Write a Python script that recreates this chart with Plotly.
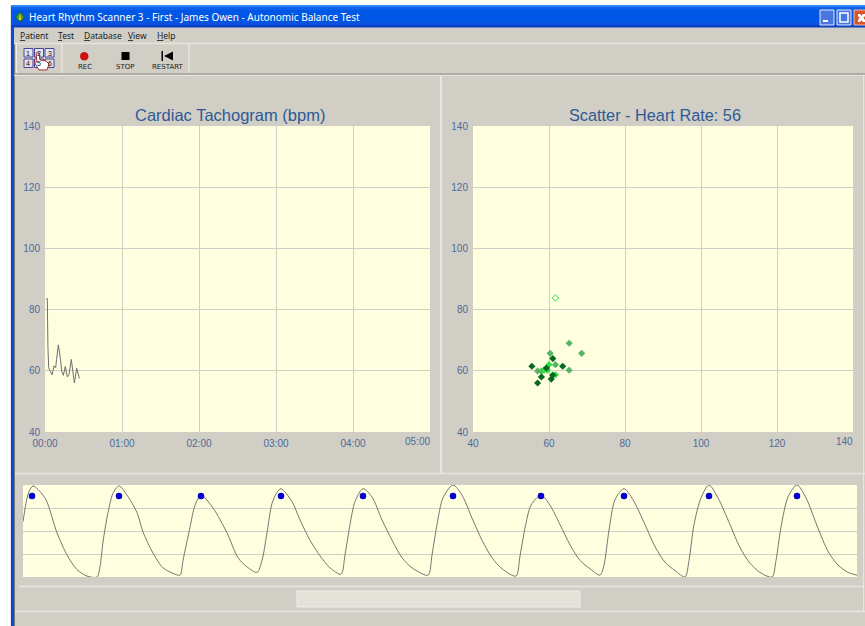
import plotly.graph_objects as go

W, H = 865, 626

# ---------- data ----------
tacho_t = [1.0, 1.8, 2.3, 2.9, 3.9, 5.5, 7.0, 8.3, 9.0, 10.4, 12.0, 13.0, 14.3, 15.8, 17.4, 18.7, 20.5, 22.9, 24.7, 26.8]
tacho_bpm = [83.6, 83.6, 67.4, 61.0, 60.0, 58.7, 61.6, 61.0, 63.7, 68.5, 64.0, 59.8, 58.5, 61.4, 58.0, 58.8, 63.7, 56.0, 60.8, 57.5]
time_ticks = [0, 60, 120, 180, 240, 300]
time_labels = ["00:00", "01:00", "02:00", "03:00", "04:00", "05:00"]
rate_ticks = [40, 60, 80, 100, 120, 140]
rate_labels = ["40", "60", "80", "100", "120", "140"]

latest_x = [61.7]
latest_y = [83.8]
light_x = [58.7, 59.6, 61.7, 60.0]
light_y = [60.2, 60.2, 58.7, 62.0]
mid_x = [65.3, 68.6, 60.3, 65.3, 61.7, 57.0, 58.0]
mid_y = [69.0, 65.7, 65.7, 60.2, 62.0, 59.9, 59.9]
dark_x = [61.0, 63.6, 55.5, 59.3, 58.0, 61.0, 60.6, 57.0]
dark_y = [64.0, 61.5, 61.5, 60.9, 58.0, 58.6, 57.3, 56.0]

wave_x = [23, 26, 29, 33, 38, 46, 57, 67, 77, 87, 97,
          100, 103, 108, 113, 119, 127, 137, 143, 153, 163, 173, 180,
          183, 190, 195, 201, 213, 227, 238, 247, 257,
          262, 267, 272, 277, 281, 292, 300, 310, 320, 330, 341,
          345, 350, 355, 363, 372, 382, 392, 402, 412, 428,
          432, 437, 443, 453, 462, 472, 482, 492, 502, 516,
          520, 525, 531, 541, 550, 560, 570, 580, 590, 600,
          604, 609, 615, 624, 633, 645, 655, 665, 675, 685,
          689, 694, 701, 709, 718, 730, 740, 750, 760, 772,
          776, 781, 788, 797, 806, 818, 828, 838, 848, 857]
wave_y = [60, 80, 93, 99, 95, 84, 48, 24, 8, 1, 0,
          11, 38, 70, 91, 99, 89, 70, 49, 26, 10, 4, 2,
          18, 54, 78, 89, 75, 48, 21, 11, 5,
          18, 48, 80, 92, 96, 82, 62, 40, 23, 10, 3,
          24, 57, 82, 96, 87, 62, 40, 21, 10, 2,
          24, 57, 86, 100, 89, 64, 40, 21, 9, 1,
          23, 53, 78, 89, 78, 57, 35, 18, 9, 2,
          13, 51, 84, 96, 84, 57, 33, 16, 7, 0,
          18, 57, 86, 100, 86, 57, 32, 15, 5, 0,
          18, 54, 87, 100, 86, 53, 28, 13, 5, 2]
beat_x = [32, 119, 201, 281, 363, 453, 541, 624, 709, 797]
beat_y = [88, 88, 88, 88, 88, 88, 88, 88, 88, 88]

window_title = "Heart Rhythm Scanner 3 - First - James Owen - Autonomic Balance Test"
menu_items = ["Patient", "Test", "Database", "View", "Help"]
tool_labels = ["REC", "STOP", "RESTART"]
left_title = "Cardiac Tachogram (bpm)"
right_title = "Scatter - Heart Rate: 56"
view_digits = ["1", "2", "3", "4", "5", "6"]

# ---------- helpers (pixel -> paper) ----------
def px(x): return x / W
def py(y): return 1 - y / H

BG = "#d1cec6"
PLOT_BG = "#ffffe0"
GRID = "#cfcfc8"
TICK = "#4d6c97"
shapes = []
annots = []

def rect(x0, y0, x1, y1, fill, line=None, lw=1):
    shapes.append(dict(type="rect", xref="paper", yref="paper", layer="below",
                       x0=px(x0), x1=px(x1), y0=py(y0), y1=py(y1), fillcolor=fill,
                       line=dict(color=line or fill, width=lw if line else 0)))

def hline(x0, x1, y, color, w=1):
    shapes.append(dict(type="line", xref="paper", yref="paper", layer="below",
                       x0=px(x0), x1=px(x1), y0=py(y), y1=py(y), line=dict(color=color, width=w)))

def vline(x, y0, y1, color, w=1):
    shapes.append(dict(type="line", xref="paper", yref="paper", layer="below",
                       x0=px(x), x1=px(x), y0=py(y0), y1=py(y1), line=dict(color=color, width=w)))

def poly(points, fill, line=None, lw=1, layer="above"):
    d = "M " + " L ".join(f"{px(a):.5f},{py(b):.5f}" for a, b in points) + " Z"
    shapes.append(dict(type="path", xref="paper", yref="paper", layer=layer, path=d, fillcolor=fill,
                       line=dict(color=line or fill, width=lw if line else 0)))

def text(x, y, s, size, color, font="Liberation Sans", anchor="left"):
    annots.append(dict(xref="paper", yref="paper", x=px(x), y=py(y), text=s, showarrow=False,
                       xanchor=anchor, yanchor="middle", align=anchor,
                       font=dict(size=size, color=color, family=font), borderpad=0, borderwidth=0))

# ---------- window chrome ----------
rect(0, 0, 10.5, H, "#ffffff")
rect(0, 0, W, 5, "#ffffff")
rect(11, 5, 14, H, "#0a46e6")
vline(14.5, 44, H, "#7d7d78", 1)
for y0, y1, c in [(5, 7, "#2f86f0"), (7, 10, "#0a62ea"), (10, 22, "#0057e6"), (22, 25, "#0a52de"), (25, 27.5, "#0a3fc4")]:
    rect(11, y0, W, y1, c)
hline(14, W, 43.5, "#e6e4dc", 1.5)
hline(14, W, 74, "#8a8a84", 1)
hline(14, W, 75.5, "#e6e4dc", 1)
vline(16.5, 44, 73, "#f0eee8", 1)
vline(62, 44, 73, "#f0eee8", 1)
vline(189, 44, 73, "#f0eee8", 1)
vline(441, 76, 473, "#e8e6de", 2)
vline(863.5, 76, 612, "#e8e6de", 1)
hline(15, W, 473.5, "#e8e6de", 1.5)
hline(19, W - 2, 586.5, "#e8e6de", 1.5)
hline(15, W, 611.5, "#e8e6de", 1.5)
rect(297, 591, 580, 607, "#e4e1d8", "#efeee8", 1)

# title bar buttons
rect(820, 10, 834, 25, "#4a76e0", "#dfe8fa", 1)
rect(830 - 7, 20, 830 - 2, 22, "#ffffff")
rect(837, 10, 851, 25, "#4a76e0", "#dfe8fa", 1)
rect(840, 13, 848, 22, "#4a76e0", "#ffffff", 1.5)
rect(854, 10, 866, 25, "#d9562c", "#e8c0b0", 1)
poly([(858, 14), (860, 14), (865, 20), (865, 22), (863, 22), (858, 16)], "#ffffff")
poly([(865, 14), (863, 14), (858, 20), (858, 22), (860, 22), (865, 16)], "#ffffff")
# app icon
poly([(20, 22), (15.5, 17), (20, 12), (24.5, 17)], "#3aa53a", "#1c5a1c", 1)
poly([(20, 13), (18.5, 20), (21.5, 20)], "#e8c020")

text(29, 17.5, window_title, 10, "#ffffff", "Noto Sans")
for x, s in zip([20, 58, 84, 128, 157], menu_items):
    text(x, 35, "<u>" + s[0] + "</u>" + s[1:], 8.5, "#222222", "Noto Sans")

# toolbar: view selector
for i, d in enumerate(view_digits):
    x0 = 24 + 10.5 * (i % 3)
    y0 = 48.5 + 10.5 * (i // 3)
    rect(x0, y0, x0 + 9, y0 + 8.5, "#e4e2ea", "#46469a", 1)
    text(x0 + 4.5, y0 + 4.5, d, 7, "#111111", "Liberation Sans", "center")
poly([(36, 53), (39, 53), (40, 60), (46, 61), (49, 64), (47, 70), (39, 70), (34, 62), (37, 62)],
     "#ffffff", "#a03030", 1)
# toolbar buttons
shapes.append(dict(type="circle", xref="paper", yref="paper", x0=px(80), x1=px(88.5), y0=py(52), y1=py(60.5),
                   fillcolor="#cc1111", line=dict(width=0), layer="below"))
rect(121.5, 52, 129.5, 60, "#000000")
rect(161.5, 51, 163, 61, "#000000")
poly([(164, 56), (173, 51.5), (173, 60.5)], "#000000", layer="below")
for x, s in zip([84.5, 125, 167.5], tool_labels):
    text(x, 66.5, s, 7, "#222222", "DejaVu Sans", "center")

text(230, 115, left_title, 16.5, "#2f5a96", "Liberation Sans", "center")
text(655, 115, right_title, 16.3, "#2f5a96", "Liberation Sans", "center")

# last x-axis labels sit flush with the plot's right edge, as in the original
tick_font = dict(size=10, color=TICK, family="Liberation Sans")
for xref, yref, xv, label in [("x", "y", time_ticks[-1], time_labels[-1]), ("x2", "y2", rate_ticks[-1], rate_labels[-1])]:
    annots.append(dict(xref=xref, yref=yref, x=xv, y=40, text=label, showarrow=False,
                       xanchor="right", yanchor="top", yshift=-3, xshift=1, font=tick_font, borderpad=0))

# ---------- figure ----------
fig = go.Figure()
fig.add_trace(go.Scatter(x=tacho_t, y=tacho_bpm, mode="lines", xaxis="x", yaxis="y",
                         line=dict(color="#6e6e6e", width=1), showlegend=False))
marker_line = dict(width=0)
fig.add_trace(go.Scatter(x=latest_x, y=latest_y, mode="markers", xaxis="x2", yaxis="y2", showlegend=False,
                         marker=dict(symbol="diamond-open", size=5, color="#33dd55", line=dict(width=1, color="#33dd55"))))
fig.add_trace(go.Scatter(x=mid_x, y=mid_y, mode="markers", xaxis="x2", yaxis="y2", showlegend=False,
                         marker=dict(symbol="diamond", size=5.5, color="#55b565", line=marker_line)))
fig.add_trace(go.Scatter(x=light_x, y=light_y, mode="markers", xaxis="x2", yaxis="y2", showlegend=False,
                         marker=dict(symbol="diamond", size=5.5, color="#33dd44", line=marker_line)))
fig.add_trace(go.Scatter(x=dark_x, y=dark_y, mode="markers", xaxis="x2", yaxis="y2", showlegend=False,
                         marker=dict(symbol="diamond", size=5.5, color="#046a20", line=marker_line)))
fig.add_trace(go.Scatter(x=wave_x, y=wave_y, mode="lines", xaxis="x3", yaxis="y3", showlegend=False,
                         line=dict(color="#757570", width=1, shape="spline", smoothing=0.8)))
fig.add_trace(go.Scatter(x=beat_x, y=beat_y, mode="markers", xaxis="x3", yaxis="y3", showlegend=False,
                         marker=dict(symbol="circle", size=6.5, color="#0000d0", line=dict(width=0))))

axis = dict(showgrid=True, gridcolor=GRID, gridwidth=1, zeroline=False, showline=False, ticks="",
            automargin=False, tickfont=tick_font)
label_gap = dict(ticks="outside", ticklen=2, tickcolor="rgba(0,0,0,0)")
layout = dict(
    width=W, height=H, autosize=False, margin=dict(l=0, r=0, t=0, b=0, pad=0),
    paper_bgcolor=BG, plot_bgcolor=PLOT_BG, showlegend=False, hovermode=False,
    shapes=shapes, annotations=annots,
    xaxis=dict(axis, **label_gap, domain=[px(45), px(430)], range=[0, 300], tickvals=time_ticks,
               ticktext=time_labels[:-1] + [""], anchor="y"),
    yaxis=dict(axis, **label_gap, domain=[py(432), py(126)], range=[40, 140], tickvals=rate_ticks, anchor="x"),
    xaxis2=dict(axis, **label_gap, domain=[px(473), px(853)], range=[40, 140], tickvals=rate_ticks,
                ticktext=rate_labels[:-1] + [""], anchor="y2"),
    yaxis2=dict(axis, **label_gap, domain=[py(432), py(126)], range=[40, 140], tickvals=rate_ticks, anchor="x2"),
    xaxis3=dict(axis, domain=[px(23), px(857)], range=[23, 857], showgrid=False, showticklabels=False, anchor="y3"),
    yaxis3=dict(axis, domain=[py(577), py(485)], range=[0, 100], tickvals=[25, 50, 75], showticklabels=False, anchor="x3"),
)
fig.update_layout(**layout)
fig.write_html("out.html", config=dict(displayModeBar=False),
               post_script="document.body.style.margin='0';document.body.style.overflow='hidden';")
